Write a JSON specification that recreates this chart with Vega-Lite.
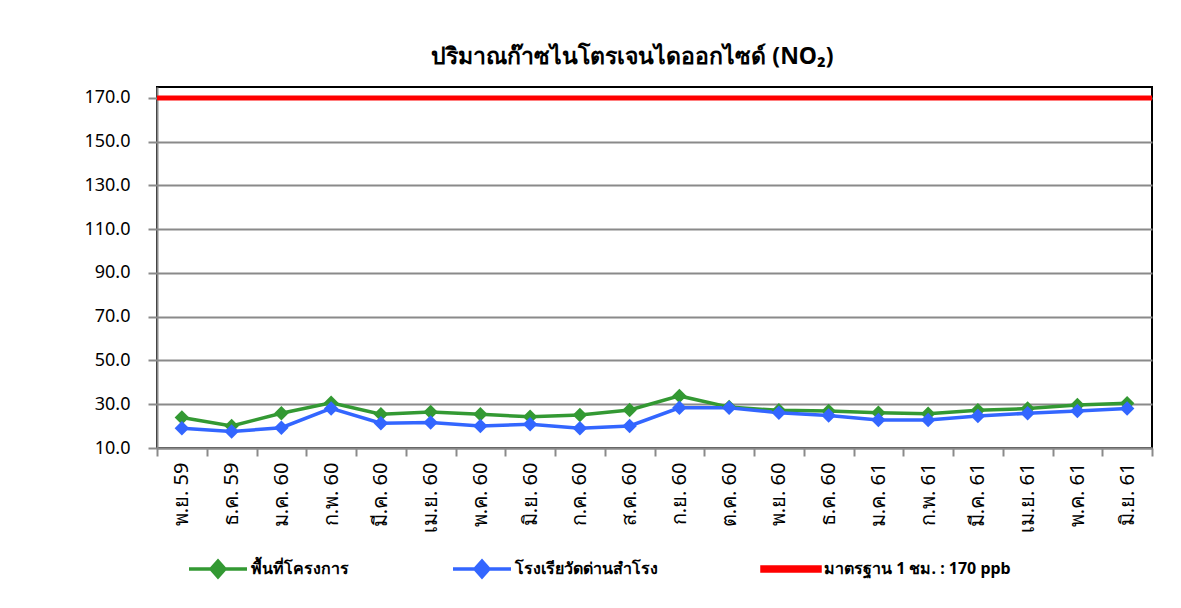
{
  "$schema": "https://vega.github.io/schema/vega-lite/v6.json",
  "width": 995,
  "height": 361,
  "autosize": {"type": "none"},
  "padding": {"left": 157, "top": 87, "right": 29, "bottom": 160},
  "background": "white",
  "config": {
    "font": "Noto Sans",
    "view": {"stroke": "#000000", "strokeWidth": 2}
  },
  "title": {
    "text": "ปริมาณก๊าซไนโตรเจนไดออกไซด์ (NO₂)",
    "fontSize": 23,
    "fontWeight": "bold",
    "color": "#000000",
    "anchor": "middle",
    "dx": -22,
    "offset": 18
  },
  "datasets": {
    "monthly": [
      {"month": "พ.ย. 59", "series": "พื้นที่โครงการ", "value": 23.9},
      {"month": "ธ.ค. 59", "series": "พื้นที่โครงการ", "value": 20.1},
      {"month": "ม.ค. 60", "series": "พื้นที่โครงการ", "value": 25.9},
      {"month": "ก.พ. 60", "series": "พื้นที่โครงการ", "value": 30.7},
      {"month": "มี.ค. 60", "series": "พื้นที่โครงการ", "value": 25.4},
      {"month": "เม.ย. 60", "series": "พื้นที่โครงการ", "value": 26.5},
      {"month": "พ.ค. 60", "series": "พื้นที่โครงการ", "value": 25.4},
      {"month": "มิ.ย. 60", "series": "พื้นที่โครงการ", "value": 24.3},
      {"month": "ก.ค. 60", "series": "พื้นที่โครงการ", "value": 25.1},
      {"month": "ส.ค. 60", "series": "พื้นที่โครงการ", "value": 27.4},
      {"month": "ก.ย. 60", "series": "พื้นที่โครงการ", "value": 33.8},
      {"month": "ต.ค. 60", "series": "พื้นที่โครงการ", "value": 28.7},
      {"month": "พ.ย. 60", "series": "พื้นที่โครงการ", "value": 27.2},
      {"month": "ธ.ค. 60", "series": "พื้นที่โครงการ", "value": 26.9},
      {"month": "ม.ค. 61", "series": "พื้นที่โครงการ", "value": 26.1},
      {"month": "ก.พ. 61", "series": "พื้นที่โครงการ", "value": 25.7},
      {"month": "มี.ค. 61", "series": "พื้นที่โครงการ", "value": 27.2},
      {"month": "เม.ย. 61", "series": "พื้นที่โครงการ", "value": 28.0},
      {"month": "พ.ค. 61", "series": "พื้นที่โครงการ", "value": 29.7},
      {"month": "มิ.ย. 61", "series": "พื้นที่โครงการ", "value": 30.4},
      {"month": "พ.ย. 59", "series": "โรงเรียวัดด่านสำโรง", "value": 19.0},
      {"month": "ธ.ค. 59", "series": "โรงเรียวัดด่านสำโรง", "value": 17.5},
      {"month": "ม.ค. 60", "series": "โรงเรียวัดด่านสำโรง", "value": 19.3},
      {"month": "ก.พ. 60", "series": "โรงเรียวัดด่านสำโรง", "value": 28.1},
      {"month": "มี.ค. 60", "series": "โรงเรียวัดด่านสำโรง", "value": 21.3},
      {"month": "เม.ย. 60", "series": "โรงเรียวัดด่านสำโรง", "value": 21.6},
      {"month": "พ.ค. 60", "series": "โรงเรียวัดด่านสำโรง", "value": 20.1},
      {"month": "มิ.ย. 60", "series": "โรงเรียวัดด่านสำโรง", "value": 20.8},
      {"month": "ก.ค. 60", "series": "โรงเรียวัดด่านสำโรง", "value": 19.0},
      {"month": "ส.ค. 60", "series": "โรงเรียวัดด่านสำโรง", "value": 20.1},
      {"month": "ก.ย. 60", "series": "โรงเรียวัดด่านสำโรง", "value": 28.4},
      {"month": "ต.ค. 60", "series": "โรงเรียวัดด่านสำโรง", "value": 28.4},
      {"month": "พ.ย. 60", "series": "โรงเรียวัดด่านสำโรง", "value": 26.1},
      {"month": "ธ.ค. 60", "series": "โรงเรียวัดด่านสำโรง", "value": 24.9},
      {"month": "ม.ค. 61", "series": "โรงเรียวัดด่านสำโรง", "value": 22.8},
      {"month": "ก.พ. 61", "series": "โรงเรียวัดด่านสำโรง", "value": 22.8},
      {"month": "มี.ค. 61", "series": "โรงเรียวัดด่านสำโรง", "value": 24.6},
      {"month": "เม.ย. 61", "series": "โรงเรียวัดด่านสำโรง", "value": 25.9},
      {"month": "พ.ค. 61", "series": "โรงเรียวัดด่านสำโรง", "value": 26.9},
      {"month": "มิ.ย. 61", "series": "โรงเรียวัดด่านสำโรง", "value": 28.1}
    ],
    "standard": [
      {"series": "มาตรฐาน 1 ชม. : 170 ppb", "value": 170}
    ]
  },
  "encoding": {
    "color": {
      "field": "series",
      "type": "nominal",
      "scale": {
        "domain": ["พื้นที่โครงการ", "โรงเรียวัดด่านสำโรง", "มาตรฐาน 1 ชม. : 170 ppb"],
        "range": ["#339933", "#3366FF", "#FF0000"]
      },
      "legend": {
        "title": null,
        "orient": "none",
        "legendX": 30,
        "legendY": 451,
        "direction": "horizontal",
        "columnPadding": 97,
        "gridAlign": "none",
        "symbolSize": 3364,
        "symbolStrokeWidth": 3.5,
        "labelOffset": 2,
        "labelFontSize": 16,
        "labelFontWeight": "bold",
        "labelColor": "#000000",
        "labelLimit": 400,
        "encode": {
          "symbols": {
            "update": {
              "shape": {"signal": "datum.value === 'มาตรฐาน 1 ชม. : 170 ppb' ? 'M-1,-0.07H1V0.07H-1Z' : 'M-1,0H1M-0.24,0L0,-0.27L0.24,0L0,0.27Z'"},
              "fill": {"scale": "color", "field": "value"},
              "stroke": {"scale": "color", "field": "value"},
              "strokeWidth": {"value": 3.5},
              "opacity": {"value": 1}
            }
          }
        }
      }
    }
  },
  "layer": [
    {
      "data": {"name": "standard"},
      "mark": {"type": "rule", "strokeWidth": 5},
      "encoding": {
        "y": {"field": "value", "type": "quantitative"}
      }
    },
    {
      "data": {"name": "monthly"},
      "mark": {
        "type": "line",
        "strokeWidth": 3.5,
        "point": {"shape": "diamond", "size": 210, "filled": true, "opacity": 1}
      },
      "encoding": {
        "x": {
          "field": "month",
          "type": "nominal",
          "sort": null,
          "scale": {"paddingInner": 0, "paddingOuter": 0},
          "axis": {
            "title": null,
            "labelAngle": -90,
            "labelAlign": "right",
            "labelBaseline": "middle",
            "labelFontSize": 20,
            "labelFontWeight": "normal",
            "labelColor": "#000000",
            "labelPadding": 6,
            "tickBand": "extent",
            "tickSize": 8,
            "tickColor": "#8a8a8a",
            "tickWidth": 2,
            "domainColor": "#8a8a8a",
            "domainWidth": 2,
            "grid": false
          }
        },
        "y": {
          "field": "value",
          "type": "quantitative",
          "scale": {"domain": [10, 175], "nice": false, "zero": false},
          "axis": {
            "title": null,
            "values": [10, 30, 50, 70, 90, 110, 130, 150, 170],
            "format": ".1f",
            "labelFontSize": 18,
            "labelFontWeight": "normal",
            "labelColor": "#000000",
            "labelPadding": 18,
            "tickSize": 9,
            "tickColor": "#8a8a8a",
            "tickWidth": 2,
            "domainColor": "#8a8a8a",
            "domainWidth": 2,
            "gridColor": "#8a8a8a",
            "gridWidth": 2
          }
        }
      }
    }
  ]
}
